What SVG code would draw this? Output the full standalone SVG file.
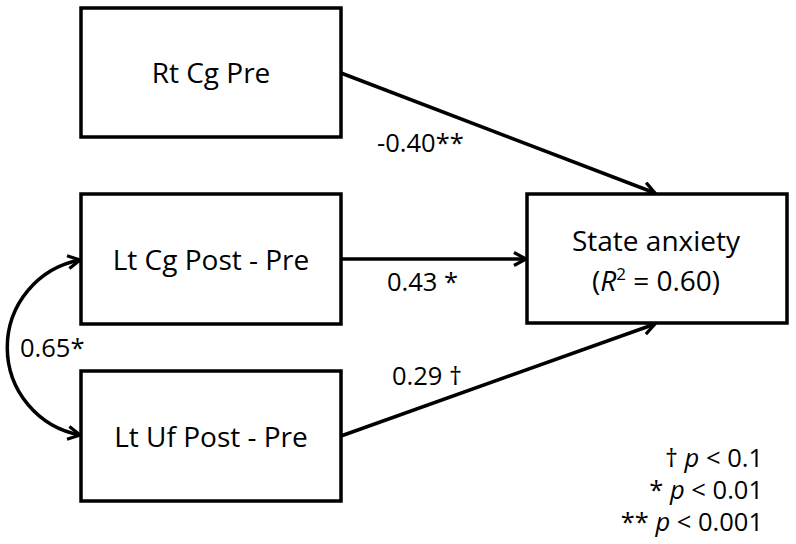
<svg xmlns="http://www.w3.org/2000/svg" width="796" height="544" viewBox="0 0 796 544">
<style>
.box{fill:#fff;stroke:#000;stroke-width:3.5}
.t{font-family:"Open Sans","Noto Sans",sans-serif;font-size:28px;fill:#000}
.lbl{font-family:"Open Sans","Noto Sans",sans-serif;font-size:25.5px;fill:#000}
.c{text-anchor:middle}
.r{text-anchor:end}
.edge{fill:none;stroke:#000;stroke-width:3.5}
</style>
<defs>
<marker id="ah" viewBox="0 0 16 16" markerWidth="16" markerHeight="16" refX="14" refY="8" orient="auto-start-reverse" markerUnits="userSpaceOnUse">
<path d="M2,1.5 L14,8 L2,14.5" fill="none" stroke="#000" stroke-width="3.2"/>
</marker>
</defs>
<rect width="796" height="544" fill="#fff"/>
<g id="connectors">
<line class="edge" x1="341" y1="73" x2="655" y2="193" marker-end="url(#ah)"/>
<line class="edge" x1="341" y1="259" x2="526" y2="259" marker-end="url(#ah)"/>
<line class="edge" x1="341" y1="436" x2="655" y2="324" marker-end="url(#ah)"/>
<path class="edge" d="M80,435 A89,89 0 0 1 80,260" marker-start="url(#ah)" marker-end="url(#ah)"/>
<text class="lbl" x="377" y="152">-0.40**</text>
<text class="lbl" x="387" y="291">0.43 *</text>
<text class="lbl" x="392" y="385">0.29 †</text>
<text class="lbl" x="20" y="357">0.65*</text>
</g>
<g id="rtcg">
<rect class="box" x="81" y="8" width="260" height="129"/>
<text class="t c" x="211" y="83">Rt Cg Pre</text>
</g>
<g id="ltcg">
<rect class="box" x="81" y="194" width="260" height="130"/>
<text class="t c" x="211" y="270">Lt Cg Post - Pre</text>
</g>
<g id="ltuf">
<rect class="box" x="81" y="371" width="260" height="130"/>
<text class="t c" x="211" y="447">Lt Uf Post - Pre</text>
</g>
<g id="state">
<rect class="box" x="527" y="194" width="260" height="129"/>
<text class="t c" x="656" y="251">State anxiety</text>
<text class="t c" x="656" y="291">(<tspan font-style="italic">R</tspan><tspan font-size="17" dy="-11">2</tspan><tspan dy="11"> = 0.60)</tspan></text>
</g>
<g id="legend">
<text class="lbl r" x="763" y="467">† <tspan font-style="italic">p</tspan> &lt; 0.1</text>
<text class="lbl r" x="763" y="499">* <tspan font-style="italic">p</tspan> &lt; 0.01</text>
<text class="lbl r" x="763" y="531">** <tspan font-style="italic">p</tspan> &lt; 0.001</text>
</g>
</svg>
